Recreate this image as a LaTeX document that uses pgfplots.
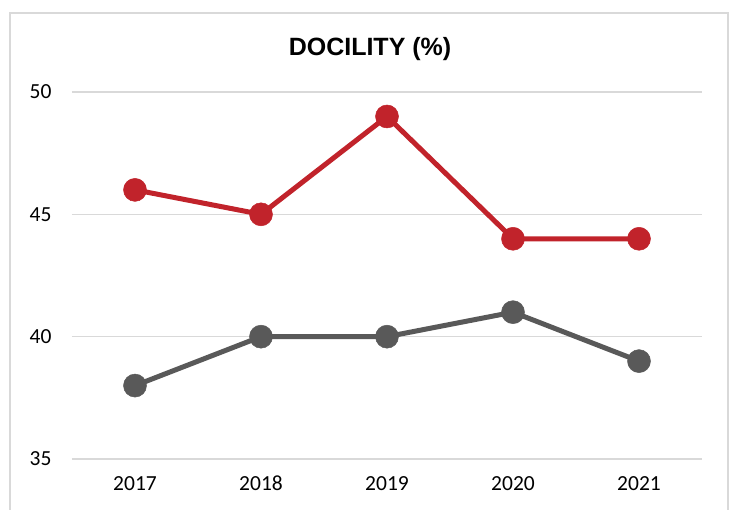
\documentclass[border=0pt]{standalone}
\usepackage{pgfplots}
\pgfplotsset{compat=1.18}
\usepackage{fontspec}
\setmainfont{Carlito}
\newfontfamily\titlefont{Liberation Sans}
\definecolor{cred}{HTML}{C1232B}
\definecolor{cgray}{HTML}{595959}
\definecolor{cgrid}{HTML}{D9D9D9}
\begin{document}
\begin{tikzpicture}[x=1pt,y=1pt]
\useasboundingbox (-72,-51) rectangle (663,459);
\draw[cgrid, line width=2pt] (-62,-80) rectangle (656,446);
\begin{axis}[
  at={(0,0)}, anchor=south west,
  scale only axis, width=630pt, height=367pt,
  xmin=-0.5, xmax=4.5, ymin=35, ymax=50,
  xtick={0,1,2,3,4}, xticklabels={2017,2018,2019,2020,2021},
  ytick={35,40,45,50},
  axis line style={draw=none},
  ymajorgrids, grid style={cgrid, line width=1.5pt},
  major tick length=0pt,
  tick label style={font=\fontsize{21.5}{24}\selectfont},
  /pgf/number format/assume math mode=true,
  yticklabel style={xshift=-17pt},
  xticklabel style={anchor=north, text height=14pt, text depth=0pt, yshift=-14pt},
  clip=false,
]
\addplot[cred, line width=5pt, mark=*, mark size=11.5pt, mark options={fill=cred, draw=cred, line width=0.5pt}] coordinates {(0,46) (1,45) (2,49) (3,44) (4,44)};
\addplot[cgray, line width=5pt, mark=*, mark size=11.5pt, mark options={fill=cgray, draw=cgray, line width=0.5pt}] coordinates {(0,38) (1,40) (2,40) (3,41) (4,39)};
\end{axis}
\node[font=\titlefont\bfseries\fontsize{25}{28}\selectfont] at (298,410) {DOCILITY (\%)};
\end{tikzpicture}
\end{document}
